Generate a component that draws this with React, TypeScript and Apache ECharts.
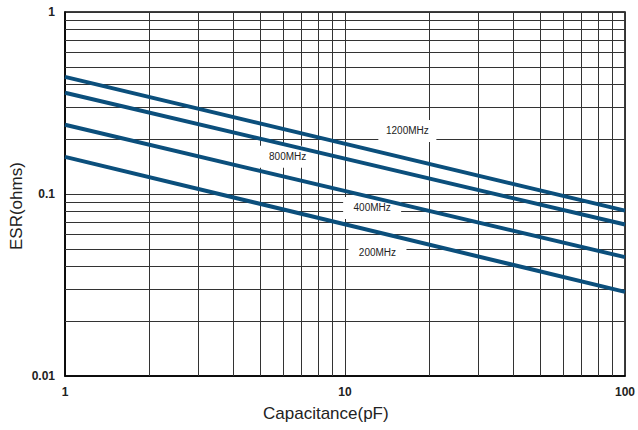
import React, { useEffect, useRef } from "react";
import * as echarts from "echarts";

const capacitance = [1, 100];
const esr1200 = [0.44, 0.081];
const esr800 = [0.36, 0.068];
const esr400 = [0.24, 0.045];
const esr200 = [0.16, 0.029];
const seriesNames = ["1200MHz", "800MHz", "400MHz", "200MHz"];
const seriesValues = [esr1200, esr800, esr400, esr200];
// label anchor points in data space [capacitance, esr]
const labelPoints: [number, number][] = [
  [16.7, 0.222],
  [6.24, 0.16],
  [12.5, 0.0838],
  [13.06, 0.048],
];
const xMinorGrid = [2, 3, 4, 5, 6, 7, 8, 9, 20, 30, 40, 50, 60, 70, 80, 90];
const yMinorGrid = [0.02, 0.03, 0.04, 0.05, 0.06, 0.07, 0.08, 0.09, 0.2, 0.3, 0.4, 0.5, 0.6, 0.7, 0.8, 0.9];

const FONT = "Liberation Sans, Arial, sans-serif";
const LINE_COLOR = "#0b4f7c";
const GRID_COLOR = "#333";

export default function App() {
  const ref = useRef<HTMLDivElement>(null);
  useEffect(() => {
    if (!ref.current) return;
    const chart = echarts.init(ref.current, undefined, { renderer: "svg" });
    const gridMarks = [
      ...xMinorGrid.map((v) => ({ xAxis: v })),
      ...yMinorGrid.map((v) => ({ yAxis: v })),
    ];
    chart.setOption({
      animation: false,
      backgroundColor: "#fff",
      grid: {
        left: 65,
        right: 12,
        top: 12,
        bottom: 54,
        show: true,
        borderColor: "#000",
        borderWidth: 1.5,
        backgroundColor: "transparent",
      },
      xAxis: {
        type: "log",
        logBase: 10,
        min: 1,
        max: 100,
        axisLine: { show: true, lineStyle: { color: "#000", width: 1.5 } },
        axisTick: { show: false },
        axisLabel: {
          fontFamily: FONT,
          fontSize: 12,
          fontWeight: "bold",
          color: "#222",
          margin: 10,
        },
        splitLine: { show: true, lineStyle: { color: GRID_COLOR, width: 1 } },
      },
      yAxis: {
        type: "log",
        logBase: 10,
        min: 0.01,
        max: 1,
        axisLine: { show: true, lineStyle: { color: "#000", width: 1.5 } },
        axisTick: { show: false },
        axisLabel: {
          fontFamily: FONT,
          fontSize: 12,
          fontWeight: "bold",
          color: "#222",
          margin: 10,
        },
        splitLine: { show: true, lineStyle: { color: GRID_COLOR, width: 1 } },
      },
      graphic: [
        {
          type: "text",
          left: 328 - 65,
          top: 405,
          style: {
            text: "Capacitance(pF)",
            font: `17px ${FONT}`,
            fill: "#222",
          },
        },
        {
          type: "text",
          x: 8,
          y: 250,
          rotation: Math.PI / 2,
          style: {
            text: "ESR(ohms)",
            font: `17px ${FONT}`,
            fill: "#222",
            textVerticalAlign: "top",
          },
        },
      ],
      series: [
        {
          type: "line",
          data: [],
          silent: true,
          z: 1,
          markLine: {
            silent: true,
            symbol: "none",
            z: 1,
            label: { show: false },
            lineStyle: { color: GRID_COLOR, width: 1, type: "solid" },
            data: gridMarks,
          },
          markPoint: {
            silent: true,
            z: 3,
            symbol: "rect",
            symbolSize: [58, 22],
            itemStyle: { color: "#fff" },
            label: {
              show: true,
              position: "inside",
              fontFamily: FONT,
              fontSize: 10,
              color: "#222",
            },
            data: labelPoints.map((c, i) => ({
              coord: c,
              value: seriesNames[i],
              label: { formatter: seriesNames[i] },
            })),
          },
        },
        ...seriesValues.map((vals, i) => ({
          type: "line",
          name: seriesNames[i],
          z: 10,
          symbol: "none",
          lineStyle: { color: LINE_COLOR, width: 4 },
          data: capacitance.map((c, j) => [c, vals[j]]),
        })),
      ],
    });
    return () => chart.dispose();
  }, []);
  return (
    <div
      ref={ref}
      style={{ position: "fixed", left: 0, top: 0, width: 638, height: 430 }}
    />
  );
}
